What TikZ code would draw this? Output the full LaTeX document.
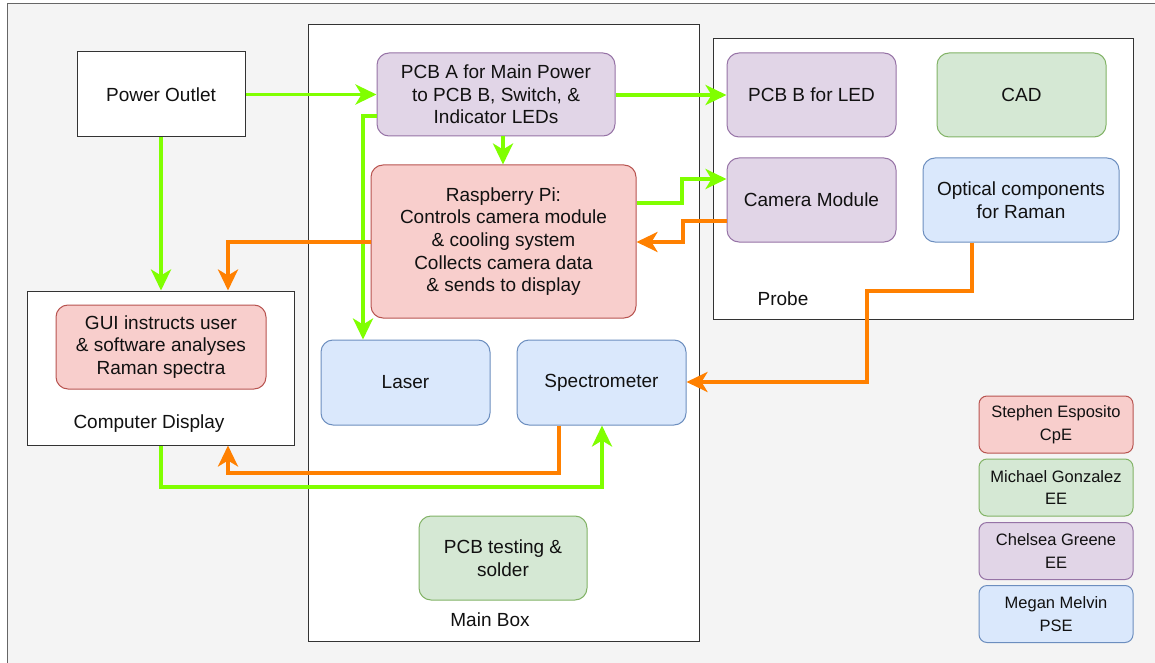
\documentclass[tikz,border=0pt]{standalone}
\usepackage{fontspec}
\setmainfont{Liberation Sans}
\usetikzlibrary{arrows.meta}
\definecolor{bgc}{HTML}{F4F4F4}
\definecolor{gline}{HTML}{80FF00}
\definecolor{oline}{HTML}{FF8000}
\definecolor{pfill}{HTML}{E1D5E7}\definecolor{pdraw}{HTML}{9673A6}
\definecolor{rfill}{HTML}{F8CECC}\definecolor{rdraw}{HTML}{B85450}
\definecolor{bfill}{HTML}{DAE8FC}\definecolor{bdraw}{HTML}{6C8EBF}
\definecolor{gfill}{HTML}{D5E8D4}\definecolor{gdraw}{HTML}{82B366}
\definecolor{txt}{HTML}{111111}
\tikzset{
  base/.style={inner sep=0pt, align=center, text=txt, font=\fontsize{19}{22.6}\selectfont, line width=1pt},
  frame/.style={base, draw=black!80, fill=white},
  rbox/.style={base, rounded corners=12pt},
  purp/.style={rbox, fill=pfill, draw=pdraw},
  redb/.style={rbox, fill=rfill, draw=rdraw},
  blub/.style={rbox, fill=bfill, draw=bdraw},
  grnb/.style={rbox, fill=gfill, draw=gdraw},
  leg/.style={font=\fontsize{16.5}{22.6}\selectfont, rounded corners=8pt, minimum width=154pt, minimum height=57pt},
  lbl/.style={inner sep=0pt, text=txt, font=\fontsize{19}{22.6}\selectfont},
  conn/.style={line width=3.6pt, -{Stealth[length=21pt,width=20pt,inset=6pt]}},
  gw/.style={conn, draw=gline},
  ow/.style={conn, draw=oline},
}
\begin{document}
\begin{tikzpicture}[x=1pt,y=-1pt]
\useasboundingbox (0,0) rectangle (1155,663);
\fill[bgc] (7,4) rectangle (1160,670);
\draw[black!60, line width=1pt] (7,670) -- (7,4) -- (1160,4);
% containers
\node[frame, minimum width=391pt, minimum height=616pt] (main) at (503.5,333) {};
\node[frame, minimum width=420pt, minimum height=280pt] (probe) at (923,179) {};
\node[frame, minimum width=267pt, minimum height=154pt] (cd) at (160.5,368) {};
\node[frame, minimum width=168pt, minimum height=85pt] (po) at (161,94.5) {Power Outlet};
% main box
\node[purp, minimum width=238pt, minimum height=83pt] (pcba) at (496,94.5) {PCB A for Main Power\\to PCB B, Switch, \&\\Indicator LEDs};
\node[redb, minimum width=265pt, minimum height=153pt] (rpi) at (503.5,241.5) {Raspberry Pi:\\Controls camera module\\\& cooling system\\Collects camera data\\\& sends to display};
\node[blub, minimum width=169pt, minimum height=85pt] (laser) at (405.5,382.5) {Laser};
\node[blub, minimum width=169pt, minimum height=85pt] (spec) at (601.5,382.5) {Spectrometer};
\node[grnb, minimum width=168pt, minimum height=84pt] (pcbt) at (503,558) {PCB testing \&\\solder};
\node[lbl] (mainlbl) at (490,620) {Main Box};
% probe
\node[purp, minimum width=169pt, minimum height=84pt] (pcbb) at (811.5,95) {PCB B for LED};
\node[grnb, minimum width=169pt, minimum height=84pt] (cad) at (1021.5,95) {CAD};
\node[purp, minimum width=169pt, minimum height=84pt] (cam) at (811.5,200) {Camera Module};
\node[blub, minimum width=196pt, minimum height=84pt] (opt) at (1021,200) {Optical components\\for Raman};
\node[lbl] (probelbl) at (783,299) {Probe};
% computer display
\node[redb, minimum width=210pt, minimum height=84pt] (gui) at (161,347) {GUI instructs user\\\& software analyses\\Raman spectra};
\node[lbl] (cdlbl) at (149,424) {Computer Display};
% legend
\node[redb, leg] (l1) at (1056,424.5) {Stephen Esposito\\CpE};
\node[grnb, leg] (l2) at (1056,487.5) {Michael Gonzalez\\EE};
\node[purp, leg] (l3) at (1056,551) {Chelsea Greene\\EE};
\node[blub, leg] (l4) at (1056,614) {Megan Melvin\\PSE};
% green connectors
\draw[gw] (po.east) -- (pcba.west |- po.east);
\draw[gw] (po.south) -- (po.south |- cd.north);
\draw[gw] (pcba.south -| 503,0) -- (rpi.north -| 503,0);
\draw[gw] (pcba.west |- 0,116) -- (363,116) -- (laser.north -| 363,0);
\draw[gw] (pcba.east |- 0,95) -- (pcbb.west |- 0,95);
\draw[gw] (rpi.east |- 0,203) -- (682,203) -- (682,179) -- (cam.west |- 0,179);
\draw[gw] (cd.south -| 161,0) -- (161,487) -- (602,487) -- (spec.south -| 602,0);
% orange connectors
\draw[ow] (cam.west |- 0,221) -- (683,221) -- (683,242) -- (rpi.east |- 0,242);
\draw[ow] (rpi.west |- 0,242) -- (228,242) -- (cd.north -| 228,0);
\draw[ow] (spec.south -| 559,0) -- (559,473) -- (228,473) -- (cd.south -| 228,0);
\draw[ow] (opt.south -| 972,0) -- (972,291) -- (867,291) -- (867,382) -- (spec.east |- 0,382);
\end{tikzpicture}
\end{document}
